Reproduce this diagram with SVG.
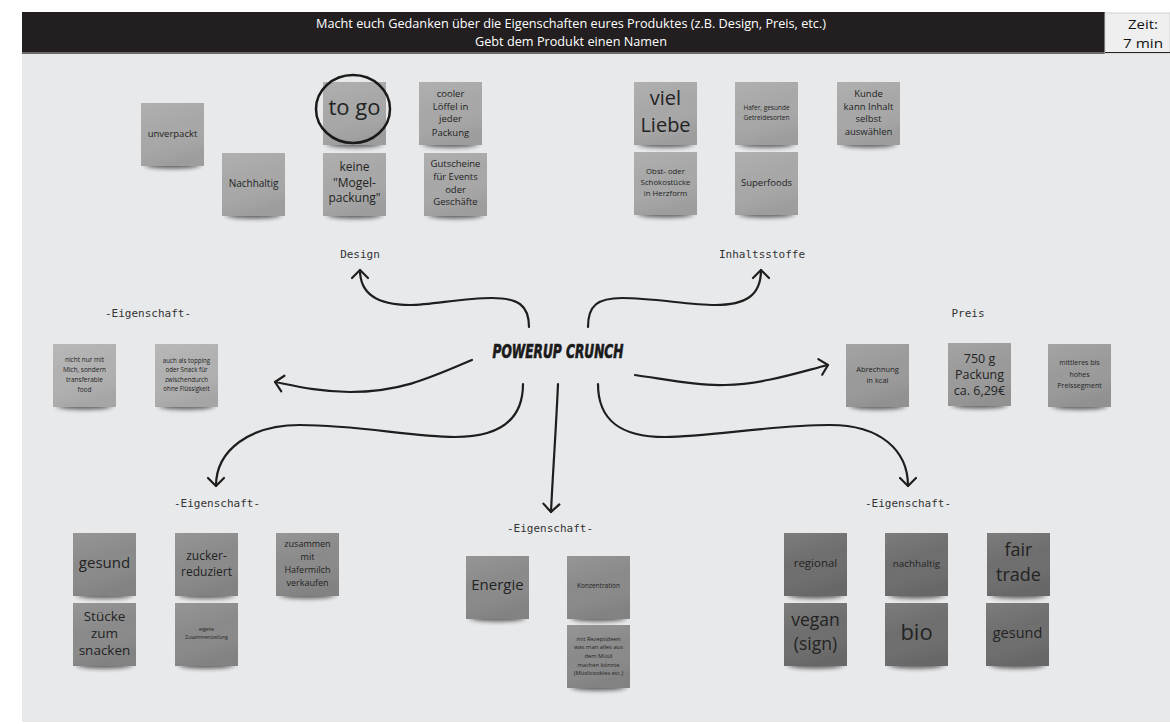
<svg xmlns="http://www.w3.org/2000/svg" xmlns:xlink="http://www.w3.org/1999/xlink" width="1170" height="724" viewBox="0 0 1170 724">
<style>
.st{font-family:"Open Sans","DejaVu Sans",sans-serif;fill:#232323;text-anchor:middle}
.lbl{font-family:"DejaVu Sans Mono","Liberation Mono",monospace;font-size:11px;fill:#333;text-anchor:middle}
.conn path{fill:none;stroke:#1e1e1e;stroke-width:2.2;stroke-linecap:round;stroke-linejoin:round}
.c1{fill:#a7a7a7}.c2{fill:#b0b0b0}.c3{fill:#9a9a9a}.c4{fill:#8a8a8a}.c5{fill:#6e6e6e}
.hd{font-family:"Open Sans","DejaVu Sans",sans-serif;font-size:12px;fill:#fff;text-anchor:middle}
</style>
<defs>
<filter id="blur" x="-20%" y="-100%" width="140%" height="300%"><feGaussianBlur stdDeviation="2"/></filter>
<linearGradient id="sheen" x1="0" y1="0" x2="0.3" y2="1">
<stop offset="0" stop-color="#fff" stop-opacity="0.10"/>
<stop offset="0.5" stop-color="#fff" stop-opacity="0"/>
<stop offset="1" stop-color="#000" stop-opacity="0.06"/>
</linearGradient>
<g id="paper">
<ellipse cx="31.5" cy="62" rx="28" ry="3.5" fill="#222" opacity="0.7" filter="url(#blur)"/>
<rect width="63" height="63"/>
<rect width="63" height="63" fill="url(#sheen)"/>
</g>
<marker id="ah" viewBox="-11 -11 22 22" refX="0" refY="0" markerWidth="22" markerHeight="22" markerUnits="userSpaceOnUse" orient="auto">
<path d="M-8,-8 L0,0 L-8,8" fill="none" stroke="#1e1e1e" stroke-width="2.2" stroke-linecap="round" stroke-linejoin="round"/>
</marker>
</defs>
<rect width="1170" height="724" fill="#fff"/>
<rect x="22" y="53" width="1148" height="669" fill="#e8e9eb"/>
<g id="header">
<rect x="22" y="12" width="1083" height="41" fill="#231f20"/>
<rect x="22" y="52" width="1083" height="2" fill="#6a6a6a"/>
<text class="hd" x="571" y="28" textLength="510" lengthAdjust="spacingAndGlyphs">Macht euch Gedanken über die Eigenschaften eures Produktes (z.B. Design, Preis, etc.)</text>
<text class="hd" x="571" y="46" textLength="192" lengthAdjust="spacingAndGlyphs">Gebt dem Produkt einen Namen</text>
</g>
<g id="zeit">
<rect x="1105" y="13" width="65" height="40" fill="#efefef" stroke="#cfcfcf" stroke-width="1"/>
<line x1="1105" y1="52.5" x2="1170" y2="52.5" stroke="#222" stroke-width="1"/>
<text x="1143" y="29" font-family="Open Sans,DejaVu Sans,sans-serif" font-size="13" fill="#111" text-anchor="middle" textLength="30" lengthAdjust="spacingAndGlyphs">Zeit:</text>
<text x="1143" y="48" font-family="Open Sans,DejaVu Sans,sans-serif" font-size="13" fill="#111" text-anchor="middle" textLength="40" lengthAdjust="spacingAndGlyphs">7 min</text>
</g>

<g id="connectors" class="conn">
<path d="M529,327 C529,305 518,298 492,298 C462,298 432,305 410,305 C380,305 360,296 360,270" marker-end="url(#ah)"/>
<path d="M588,327 C588,305 598,298 622,298 C652,298 690,305 715,305 C745,305 761,296 761,270" marker-end="url(#ah)"/>
<path d="M472,360 C430,378 400,392 350,392 C320,392 295,386 275,382" marker-end="url(#ah)"/>
<path d="M635,375 C670,380 700,386 725,385 C765,384 800,372 828,365" marker-end="url(#ah)"/>
<path d="M523,384 C523,420 500,437 455,437 C410,437 360,425 300,425 C250,425 216,450 216,486" marker-end="url(#ah)"/>
<path d="M598,384 C598,420 620,437 665,437 C710,437 770,425 830,425 C880,425 908,450 908,486" marker-end="url(#ah)"/>
<path d="M558,384 C556,430 553,470 551,512" marker-end="url(#ah)"/>
</g>

<g id="center">
<text x="558" y="358" font-family="DejaVu Sans Condensed,DejaVu Sans,sans-serif" font-weight="bold" font-style="italic" font-size="20" fill="#1a1a1a" stroke="#1a1a1a" stroke-width="0.7" text-anchor="middle" textLength="131" lengthAdjust="spacingAndGlyphs">POWERUP CRUNCH</text>
</g>

<g id="labels">
<text class="lbl" x="360" y="258">Design</text>
<text class="lbl" x="762" y="258">Inhaltsstoffe</text>
<text class="lbl" x="148" y="317">-Eigenschaft-</text>
<text class="lbl" x="968" y="317">Preis</text>
<text class="lbl" x="217" y="507">-Eigenschaft-</text>
<text class="lbl" x="550" y="532">-Eigenschaft-</text>
<text class="lbl" x="908" y="507">-Eigenschaft-</text>
</g>

<g id="n-unverpackt" transform="translate(141,103)"><use href="#paper" class="c1"/><text class="st" font-size="9.5" x="31.5" y="33.5">unverpackt</text></g>
<g id="n-nachhaltig1" transform="translate(222,153)"><use href="#paper" class="c1"/><text class="st" font-size="10" x="31.5" y="33.5">Nachhaltig</text></g>
<g id="n-togo" transform="translate(323,82)"><use href="#paper" class="c1"/><text class="st" font-size="22" x="31.5" y="33">to go</text></g>
<ellipse id="togo-circle" cx="353" cy="109" rx="37" ry="34" fill="none" stroke="#1a1a1a" stroke-width="2.5"/>
<g id="n-mogel" transform="translate(323,153)"><use href="#paper" class="c1"/><text class="st" font-size="12"><tspan x="31.5" y="18">keine</tspan><tspan x="31.5" y="33.5">"Mogel-</tspan><tspan x="31.5" y="49">packung"</tspan></text></g>
<g id="n-loeffel" transform="translate(419,82)"><use href="#paper" class="c1"/><text class="st" font-size="9.5"><tspan x="31.5" y="15">cooler</tspan><tspan x="31.5" y="27.5">Löffel in</tspan><tspan x="31.5" y="40">jeder</tspan><tspan x="31.5" y="53.5">Packung</tspan></text></g>
<g id="n-gutscheine" transform="translate(424,153)"><use href="#paper" class="c1"/><text class="st" font-size="9.5"><tspan x="31.5" y="14">Gutscheine</tspan><tspan x="31.5" y="27">für Events</tspan><tspan x="31.5" y="39.5">oder</tspan><tspan x="31.5" y="52">Geschäfte</tspan></text></g>

<g id="n-liebe" transform="translate(634,82)"><use href="#paper" class="c1"/><text class="st" font-size="20"><tspan x="31.5" y="23">viel</tspan><tspan x="31.5" y="49.5">Liebe</tspan></text></g>
<g id="n-hafer" transform="translate(735,82)"><use href="#paper" class="c1"/><text class="st" font-size="6.5"><tspan x="31.5" y="28">Hafer, gesunde</tspan><tspan x="31.5" y="38">Getreidesorten</tspan></text></g>
<g id="n-kunde" transform="translate(837,82)"><use href="#paper" class="c1"/><text class="st" font-size="9.5"><tspan x="31.5" y="15">Kunde</tspan><tspan x="31.5" y="27.5">kann Inhalt</tspan><tspan x="31.5" y="40">selbst</tspan><tspan x="31.5" y="53">auswählen</tspan></text></g>
<g id="n-obst" transform="translate(634,152)"><use href="#paper" class="c1"/><text class="st" font-size="7.8"><tspan x="31.5" y="21.5">Obst- oder</tspan><tspan x="31.5" y="33">Schokostücke</tspan><tspan x="31.5" y="44">in Herzform</tspan></text></g>
<g id="n-superfoods" transform="translate(735,152)"><use href="#paper" class="c1"/><text class="st" font-size="9.5" x="31.5" y="34">Superfoods</text></g>

<g id="n-milch" transform="translate(53,344)"><use href="#paper" class="c2"/><text class="st" font-size="6.5"><tspan x="31.5" y="17.5">nicht nur mit</tspan><tspan x="31.5" y="28">Mich, sondern</tspan><tspan x="31.5" y="38">transferable</tspan><tspan x="31.5" y="47.5">food</tspan></text></g>
<g id="n-topping" transform="translate(155,344)"><use href="#paper" class="c2"/><text class="st" font-size="6.2"><tspan x="31.5" y="19">auch als topping</tspan><tspan x="31.5" y="28">oder Snack für</tspan><tspan x="31.5" y="37.5">zwischendurch</tspan><tspan x="31.5" y="47">ohne Flüssigkeit</tspan></text></g>

<g id="n-kcal" transform="translate(846,344)"><use href="#paper" class="c3"/><text class="st" font-size="7.5"><tspan x="31.5" y="27.5">Abrechnung</tspan><tspan x="31.5" y="38.5">in kcal</tspan></text></g>
<g id="n-750" transform="translate(948,343)"><use href="#paper" class="c3"/><text class="st" font-size="12.5"><tspan x="31.5" y="20">750 g</tspan><tspan x="31.5" y="35.5">Packung</tspan><tspan x="31.5" y="51.5">ca. 6,29€</tspan></text></g>
<g id="n-preissegment" transform="translate(1048,344)"><use href="#paper" class="c3"/><text class="st" font-size="7"><tspan x="31.5" y="21">mittleres bis</tspan><tspan x="31.5" y="32.5">hohes</tspan><tspan x="31.5" y="44">Preissegment</tspan></text></g>

<g id="n-gesund1" transform="translate(73,533)"><use href="#paper" class="c4"/><text class="st" font-size="15" x="31.5" y="34.5">gesund</text></g>
<g id="n-zucker" transform="translate(175,533)"><use href="#paper" class="c4"/><text class="st" font-size="12"><tspan x="31.5" y="26.5">zucker-</tspan><tspan x="31.5" y="42.5">reduziert</tspan></text></g>
<g id="n-hafermilch" transform="translate(276,533)"><use href="#paper" class="c4"/><text class="st" font-size="9"><tspan x="31.5" y="13.5">zusammen</tspan><tspan x="31.5" y="27">mit</tspan><tspan x="31.5" y="39.5">Hafermilch</tspan><tspan x="31.5" y="52.5">verkaufen</tspan></text></g>
<g id="n-stuecke" transform="translate(73,603)"><use href="#paper" class="c4"/><text class="st" font-size="13.5"><tspan x="31.5" y="17.5">Stücke</tspan><tspan x="31.5" y="35">zum</tspan><tspan x="31.5" y="52">snacken</tspan></text></g>
<g id="n-eigene" transform="translate(175,603)"><use href="#paper" class="c4"/><text class="st" font-size="4.8"><tspan x="31.5" y="28">eigene</tspan><tspan x="31.5" y="35.5">Zusammenstellung</tspan></text></g>

<g id="n-energie" transform="translate(466,556)"><use href="#paper" class="c4"/><text class="st" font-size="15" x="31.5" y="34">Energie</text></g>
<g id="n-konzentration" transform="translate(567,556)"><use href="#paper" class="c4"/><text class="st" font-size="6.5" x="31.5" y="31.5">Konzentration</text></g>
<g id="n-rezept" transform="translate(567,625)"><use href="#paper" class="c4"/><text class="st" font-size="5.8"><tspan x="31.5" y="15.5">mit Rezeptideen</tspan><tspan x="31.5" y="24">was man alles aus</tspan><tspan x="31.5" y="33">dem Müsli</tspan><tspan x="31.5" y="41.5">machen könnte</tspan><tspan x="31.5" y="50">(Müslicookies etc.)</tspan></text></g>

<g id="n-regional" transform="translate(784,533)"><use href="#paper" class="c5"/><text class="st" font-size="11.5" x="31.5" y="34">regional</text></g>
<g id="n-nachhaltig2" transform="translate(885,533)"><use href="#paper" class="c5"/><text class="st" font-size="9.8" x="31.5" y="33.5">nachhaltig</text></g>
<g id="n-fairtrade" transform="translate(987,533)"><use href="#paper" class="c5"/><text class="st" font-size="18"><tspan x="31.5" y="23">fair</tspan><tspan x="31.5" y="48">trade</tspan></text></g>
<g id="n-vegan" transform="translate(784,603)"><use href="#paper" class="c5"/><text class="st" font-size="17.5"><tspan x="31.5" y="22.5">vegan</tspan><tspan x="31.5" y="47">(sign)</tspan></text></g>
<g id="n-bio" transform="translate(885,603)"><use href="#paper" class="c5"/><text class="st" font-size="22" x="31.5" y="37">bio</text></g>
<g id="n-gesund2" transform="translate(986,603)"><use href="#paper" class="c5"/><text class="st" font-size="14.5" x="31.5" y="34.5">gesund</text></g>
</svg>
